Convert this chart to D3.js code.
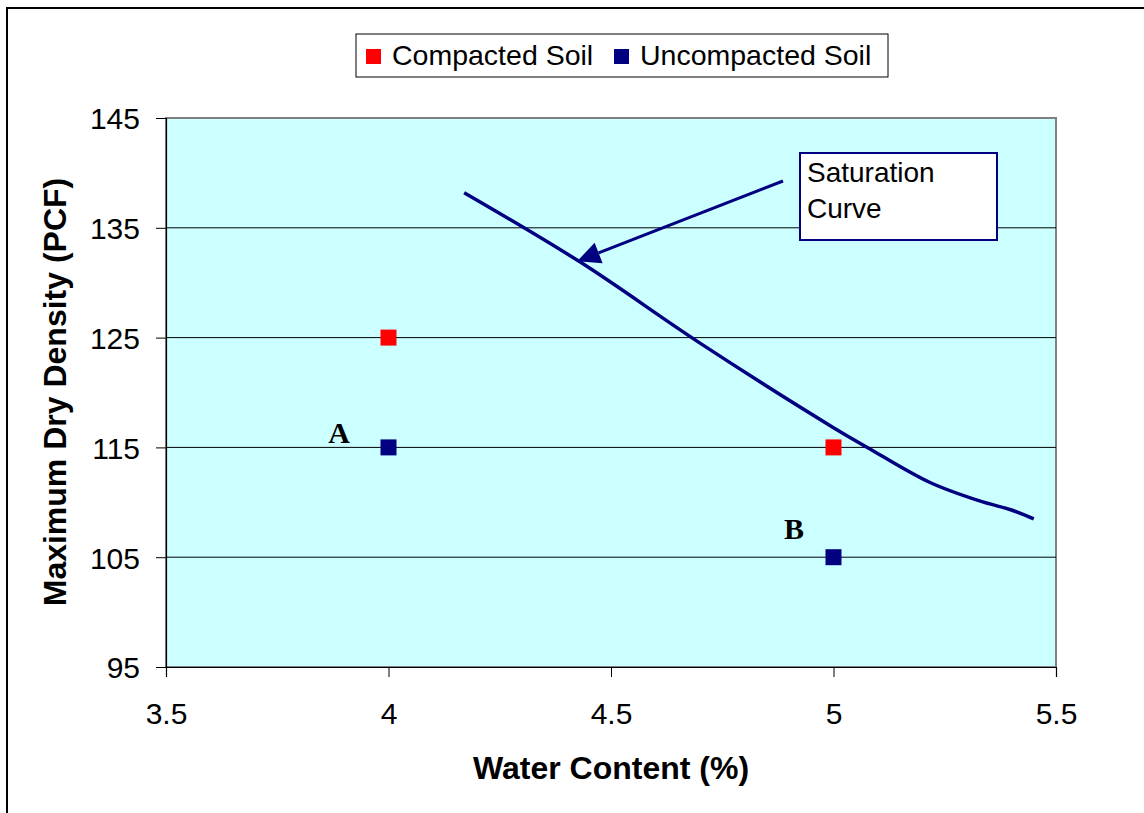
<!DOCTYPE html>
<html><head><meta charset="utf-8">
<script src="https://cdn.jsdelivr.net/npm/d3@7"></script>
<style>body{margin:0;background:#fff}svg{display:block}</style>
</head><body>
<script>
const xTicks = [3.5, 4, 4.5, 5, 5.5];
const yTicks = [95, 105, 115, 125, 135, 145];
const seriesNames = ["Compacted Soil", "Uncompacted Soil"];
const seriesColors = ["#FF0000", "#000080"];
const compacted = [{x: 4, y: 125}, {x: 5, y: 115}];
const uncompacted = [{x: 4, y: 115}, {x: 5, y: 105}];
const curveX = [4.17, 4.43, 4.70, 5.0, 5.076, 5.217, 5.33, 5.40, 5.45];
const curveY = [138.2, 131.9, 124.5, 116.8, 115.0, 111.8, 110.1, 109.3, 108.5];
const pointLabels = [{t: "A", x: 3.889, y: 115.4}, {t: "B", x: 4.911, y: 106.66}];
const annotation = ["Saturation", "Curve"];

const SANS = "Arial, 'Liberation Sans', sans-serif";
const SERIF = "'Times New Roman', 'Liberation Serif', serif";
const W = 1144, H = 813;
const svg = d3.select("body").append("svg").attr("width", W).attr("height", H)
  .style("font-family", SANS);
const m = {l: 166, r: 1056, t: 118, b: 667};
const x = d3.scaleLinear().domain([3.5, 5.5]).range([m.l, m.r]);
const y = d3.scaleLinear().domain([95, 145]).range([m.b, m.t]);

// outer frame
svg.append("path").attr("d", `M7,${H} L7,8 L${W},8`).attr("fill", "none").attr("stroke", "#000").attr("stroke-width", 2);

// plot background
svg.append("rect").attr("x", m.l).attr("y", m.t).attr("width", m.r - m.l).attr("height", m.b - m.t)
  .attr("fill", "#CCFFFF").attr("stroke", "#808080").attr("stroke-width", 2);

// gridlines
svg.append("g").selectAll("line").data(yTicks.slice(1, -1)).join("line")
  .attr("x1", m.l).attr("x2", m.r).attr("y1", d => y(d)).attr("y2", d => y(d))
  .attr("stroke", "#000").attr("stroke-width", 1);

// axes
const yAxis = svg.append("g").attr("transform", `translate(${m.l},0)`)
  .call(d3.axisLeft(y).tickValues(yTicks).tickSize(10).tickPadding(16).tickFormat(d3.format("d")));
const xAxis = svg.append("g").attr("transform", `translate(0,${m.b})`)
  .call(d3.axisBottom(x).tickValues(xTicks).tickSize(10).tickPadding(26).tickFormat(d => String(d)));
[yAxis, xAxis].forEach(a => {
  a.attr("font-family", null).attr("font-size", null);
  a.select(".domain").attr("stroke", "#000").attr("stroke-width", 1.2);
  a.selectAll(".tick line").attr("stroke", "#000");
  a.selectAll("text").style("font-size", "30px").style("font-family", SANS).attr("fill", "#000");
});
yAxis.selectAll("text").attr("dy", "0.36em");

// saturation curve
const curveData = curveX.map((v, i) => ({x: v, y: curveY[i]}));
svg.append("path").datum(curveData)
  .attr("d", d3.line().x(d => x(d.x)).y(d => y(d.y)).curve(d3.curveCatmullRom.alpha(0.5)))
  .attr("fill", "none").attr("stroke", "#000080").attr("stroke-width", 3.5);

// points
const sq = 16;
[compacted, uncompacted].forEach((s, i) => {
  svg.append("g").selectAll("rect").data(s).join("rect")
    .attr("x", d => x(d.x) - sq / 2).attr("y", d => y(d.y) - sq / 2)
    .attr("width", sq).attr("height", sq).attr("fill", seriesColors[i]);
});

// point labels
svg.append("g").selectAll("text").data(pointLabels).join("text")
  .attr("x", d => x(d.x)).attr("y", d => y(d.y)).attr("text-anchor", "middle")
  .style("font-family", SERIF).attr("font-weight", "bold")
  .style("font-size", "30px").text(d => d.t);

// annotation arrow
(function () {
  const sx = 783, sy = 181;
  const tx = x(4.424), ty = y(131.95);
  const ang = Math.atan2(sy - ty, sx - tx);
  const len = 23, half = 11;
  const bx = tx + len * Math.cos(ang), by = ty + len * Math.sin(ang);
  const px = -Math.sin(ang) * half, py = Math.cos(ang) * half;
  svg.append("line").attr("x1", sx).attr("y1", sy).attr("x2", bx).attr("y2", by)
    .attr("stroke", "#000080").attr("stroke-width", 3);
  svg.append("path").attr("d", `M${tx},${ty} L${bx + px},${by + py} L${bx - px},${by - py} Z`).attr("fill", "#000080");
})();

// annotation box
svg.append("rect").attr("x", 800).attr("y", 153).attr("width", 197).attr("height", 87)
  .attr("fill", "#fff").attr("stroke", "#000080").attr("stroke-width", 2);
svg.append("g").selectAll("text").data(annotation).join("text")
  .attr("x", 807).attr("y", (d, i) => 182 + i * 36).style("font-size", "28px").text(d => d);

// legend
svg.append("rect").attr("x", 356).attr("y", 34).attr("width", 532).attr("height", 43)
  .attr("fill", "#fff").attr("stroke", "#000").attr("stroke-width", 1);
const legX = [366, 614];
seriesNames.forEach((n, i) => {
  svg.append("rect").attr("x", legX[i]).attr("y", 49).attr("width", 15).attr("height", 15).attr("fill", seriesColors[i]);
  svg.append("text").attr("x", legX[i] + 26).attr("y", 65).style("font-size", "28.5px").text(n);
});

// titles
svg.append("text").attr("x", 611).attr("y", 779).attr("text-anchor", "middle")
  .style("font-size", "32px").attr("font-weight", "bold").text("Water Content (%)");
svg.append("text").attr("transform", `translate(66,392) rotate(-90)`).attr("text-anchor", "middle")
  .style("font-size", "32px").attr("font-weight", "bold").text("Maximum Dry Density (PCF)");
</script>
</body></html>
